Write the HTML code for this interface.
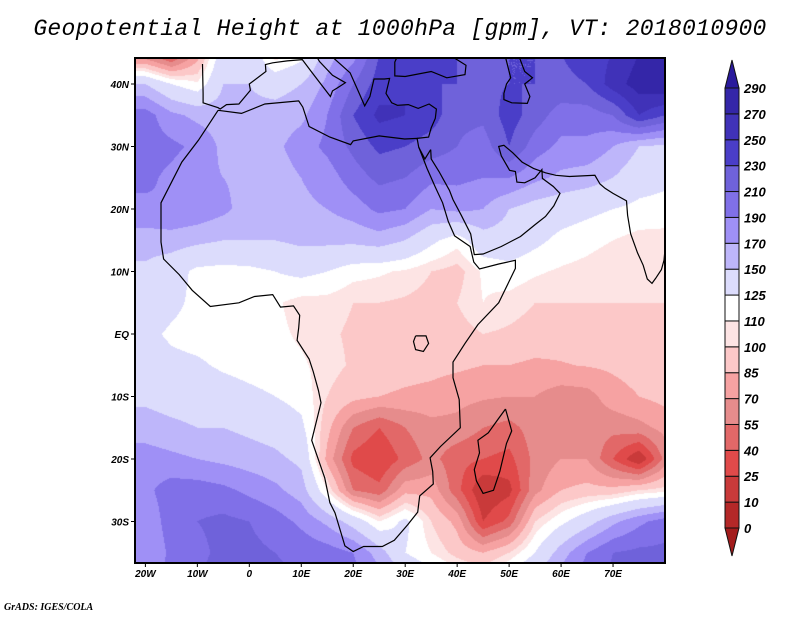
<!DOCTYPE html>
<html><head><meta charset="utf-8">
<style>
html,body{margin:0;padding:0;background:#fff;}
#root{position:relative;width:800px;height:618px;overflow:hidden;background:#fff;font-family:"Liberation Sans",sans-serif;}
.t{position:absolute;font-style:italic;font-weight:bold;color:#000;white-space:nowrap;}
#title{position:absolute;left:0;width:800px;top:16px;text-align:center;font-family:"Liberation Mono",monospace;font-style:italic;font-size:23px;color:#000;letter-spacing:0.3px;}
canvas{position:absolute;left:135px;top:58px;}
svg{position:absolute;left:0;top:0;}
</style></head><body>
<div id="root">
<div id="title">Geopotential Height at 1000hPa [gpm], VT: 2018010900</div>
<canvas id="cv" width="530" height="505"></canvas>
<svg id="sv" width="800" height="618"></svg>
<div class="t" style="left:4px;top:602px;font-size:10px;font-family:'Liberation Serif',serif;">GrADS: IGES/COLA</div>
</div>
<script>
// grid data: lons -20..80 step 5, lats 45..-40 step 5
const lons=[-20,-15,-10,-5,0,5,10,15,20,25,30,35,40,45,50,55,60,65,70,75,80];
const lats=[45,40,35,30,25,20,15,10,5,0,-5,-10,-15,-20,-25,-30,-35,-40];
const row45=[50,25,75,140,140,100,115,160,180,230,240,240,230,225,230,230,230,240,250,270,280];
const row40=[150,125,112,150,150,140,150,175,210,240,250,230,230,225,230,230,225,230,260,280,290];
const row35=[200,175,165,160,155,160,165,190,230,255,250,240,215,215,240,220,200,200,210,250,230];
const row30=[200,195,185,165,160,165,180,195,215,235,230,220,210,200,230,200,185,185,170,150,145];
const row25=[195,185,175,170,165,160,170,180,200,215,210,195,195,190,190,175,165,160,150,135,130];
const row20=[185,190,185,175,160,155,165,170,180,195,190,170,175,170,150,140,135,130,125,120,118];
const row15=[160,160,155,150,150,150,155,155,155,160,150,130,115,140,140,130,120,115,110,105,105];
const row10=[145,135,120,118,120,125,130,125,115,112,108,100,95,112,118,112,108,105,100,102,105];
const row5=[140,130,120,115,115,112,105,105,100,100,98,95,100,110,105,100,100,100,100,100,100];
const row0=[130,122,118,115,115,113,108,102,98,98,95,92,95,100,98,95,92,92,95,98,100];
const rowS5=[135,130,128,122,118,115,112,105,98,95,92,90,88,85,85,82,84,86,88,92,95];
const rowS10=[145,140,138,135,130,125,118,100,90,85,82,80,75,72,70,70,62,64,78,85,90];
const rowS15=[160,155,150,150,145,140,130,90,55,40,55,65,65,55,50,62,60,62,60,65,75];
const rowS20=[180,175,170,165,160,155,145,80,35,25,45,60,45,40,35,60,70,70,40,10,60];
const rowS25=[185,200,200,195,185,175,160,110,55,45,80,80,45,10,20,65,85,90,90,100,105];
const rowS30=[175,200,210,215,210,200,185,165,140,110,130,100,80,25,45,100,120,140,165,185,200];
const rowS35=[170,195,205,215,215,210,205,200,190,160,125,110,95,85,100,125,160,190,210,215,215];
const rowS40=[175,200,210,220,220,215,210,205,200,185,160,140,125,120,140,160,185,205,215,220,220];
const grid=[row45,row40,row35,row30,row25,row20,row15,row10,row5,row0,rowS5,rowS10,rowS15,rowS20,rowS25,rowS30,rowS35,rowS40];
const levels=[0,10,25,40,55,70,85,100,110,125,150,170,190,210,230,250,270,290];
const levelLabels=["0","10","25","40","55","70","85","100","110","125","150","170","190","210","230","250","270","290"];
const colors=["#a31c1c","#b42828","#c93a3a","#e04a4a","#e26868","#e68c8c","#f6a2a2","#fcc8c8","#fde4e4","#ffffff","#dcdcfc","#beb6fa","#9f90f6","#8070e8","#6f62da","#4a3ec8","#4032b8","#3426a8","#2a1a9c"];
const xTicks=[-20,-10,0,10,20,30,40,50,60,70];
const xTickLabels=["20W","10W","0","10E","20E","30E","40E","50E","60E","70E"];
const yTicks=[40,30,20,10,0,-10,-20,-30];
const yTickLabels=["40N","30N","20N","10N","EQ","10S","20S","30S"];

// axis functions
const X0=135,X1=665,Y0=58,Y1=563;
const lonMin=-22,lonMax=80;
function xOf(lon){return X0+(lon-lonMin)*(X1-X0)/(lonMax-lonMin);}
function yOf(lat){return 334-lat*6.25;}
function latOfY(y){return (334-y)/6.25;}
function lonOfX(x){return lonMin+(x-X0)*(lonMax-lonMin)/(X1-X0);}
function valAt(lon,lat){
  let fi=(lon-lons[0])/5, fj=(lats[0]-lat)/5;
  fi=Math.max(0,Math.min(lons.length-1.001,fi));fj=Math.max(0,Math.min(lats.length-1.001,fj));
  const i=Math.floor(fi),j=Math.floor(fj),a=fi-i,b=fj-j;
  return grid[j][i]*(1-a)*(1-b)+grid[j][i+1]*a*(1-b)+grid[j+1][i]*(1-a)*b+grid[j+1][i+1]*a*b;
}
function hex(c){return [parseInt(c.substr(1,2),16),parseInt(c.substr(3,2),16),parseInt(c.substr(5,2),16)];}
const rgb=colors.map(hex);
(function(){
  const cv=document.getElementById('cv'),ctx=cv.getContext('2d');
  const W=cv.width,H=cv.height,img=ctx.createImageData(W,H);
  for(let y=0;y<H;y++){const lat=latOfY(Y0+y+0.5);
    for(let x=0;x<W;x++){const v=valAt(lonOfX(X0+x+0.5),lat);
      let k=0;while(k<levels.length&&v>=levels[k])k++;const c=rgb[k],p=(y*W+x)*4;
      img.data[p]=c[0];img.data[p+1]=c[1];img.data[p+2]=c[2];img.data[p+3]=255;}}
  ctx.putImageData(img,0,0);
})();

const NS="http://www.w3.org/2000/svg";
const sv=document.getElementById('sv');
function mk(tag,attrs){const e=document.createElementNS(NS,tag);for(const k in attrs)e.setAttribute(k,attrs[k]);sv.appendChild(e);return e;}
// coastlines
const africa=[[-6,35.8],[-9.8,31],[-13,27.5],[-17,21],[-17,14.7],[-16.5,12],[-13.5,9.5],[-11,7],[-7.5,4.4],[-2,5],[1,6],[4.5,6.3],[6,4.3],[8.5,4.5],[9.7,3],[9.5,1],[9.2,-1],[11.5,-4],[12.3,-6],[13.3,-9],[13.8,-11],[12,-17],[14.5,-23],[15.5,-27],[16.5,-28.6],[18.4,-33.9],[20,-34.8],[22,-34],[25.6,-34],[27.9,-33],[30.5,-30.5],[32.4,-28.5],[32.8,-25.9],[35.4,-24],[35.3,-22],[34.8,-19.8],[36.8,-18],[40.6,-15],[40.4,-10.5],[39.2,-7],[39.2,-4.5],[41.5,-1.5],[44,1.5],[48,5],[51.2,10.5],[51.2,11.8],[48,11.2],[44.3,10.4],[43.2,11.5],[42.5,14],[39.5,15.7],[38.3,18],[37.2,21],[35.8,23.5],[34.2,26.5],[33.5,28],[32.6,29.9],[32.3,31.3],[29.9,31.2],[25,31.7],[20,30.9],[19.5,30.3],[15.5,31.5],[11.5,33.2],[10.3,36.3],[9.5,37.3],[3,36.8],[-1.5,35.3],[-6,35.8]];
const madagascar=[[49.3,-12],[50.5,-15.5],[49.5,-17.5],[48.2,-22],[47,-25],[45,-25.5],[43.7,-23.5],[43.3,-21.7],[44.3,-19],[44,-17],[46,-15.8],[47.9,-13.6],[49.3,-12]];
const asia=[[32.3,31.3],[34.5,31.5],[35,33],[35.8,34.5],[36,36],[34.6,36.8],[32.5,36.1],[30.6,36.7],[28.5,36.6],[27.4,37],[26.3,38.5],[27,40.9],[26,40.8],[24,40.8],[23.2,38],[22.2,36.5],[21,38.8],[19.4,41.8],[16,44.3],[13.6,45.3]];
const arabia=[[34.9,29.5],[35,28],[36.5,26],[38.5,23],[39.2,21.5],[40.8,19],[42.6,16],[43.3,12.7],[45,12.8],[48.5,14],[52.2,15.6],[55,17.5],[57,18.8],[58.6,20.5],[59.8,22.5],[58.5,23.6],[56.4,24.9],[56.3,26.3],[55,25],[53,24.2],[51.5,24.3],[51.2,26],[50.1,26.2],[48.5,28.5],[48,30],[49,30.2],[50.7,29],[52.5,27.5],[54.7,26.5],[57,25.8],[59,25.4],[61.6,25.2],[66.5,25.4],[67.5,24],[68.5,23.3],[70,22.5],[72.6,21.3],[72.8,19],[73.4,16],[74.7,13],[75.8,11],[76.6,8.8],[77.5,8.1],[78.2,8.9],[79.3,10.3],[79.8,11.8],[80,13.5]];
const sinai=[[32.6,29.9],[33.8,28],[34.9,29.5]];
const europe=[[-9,43.2],[-8.9,38.5],[-8.9,37],[-6,36.2],[-5.6,36],[-4.4,36.7],[-2,36.8],[-0.3,38.5],[0.2,39],[0,40],[3.2,42],[3.1,43.1],[4.5,43.4],[7.3,43.7],[10.2,43.9],[12,41.9],[15.6,38],[16,38.9],[17,39.4],[18.5,40.2],[16,41.4],[13.5,43.6],[12.3,45.3]];
const blacksea=[[28.7,44.8],[28,43.5],[28,41.3],[30,41.2],[35,42],[38,41],[41.5,41.5],[41.7,43],[39,44.4],[37.5,45.3]];
const caspian=[[49,45.3],[50.3,41],[49.5,40],[49,38.5],[49,37.5],[50.5,37],[53.5,36.9],[54,38],[53,40],[54.5,41],[53,42],[51.5,45.3]];
const lakeVic=[[32,-0.3],[34,-0.3],[34.5,-1.5],[33.5,-2.8],[32,-2.5],[31.6,-1.2],[32,-0.3]];
const coasts=[africa,madagascar,asia,arabia,sinai,europe,blacksea,caspian,lakeVic];
const cp=mk('clipPath',{id:'mapclip'});
const cr=document.createElementNS(NS,'rect');cr.setAttribute('x',X0);cr.setAttribute('y',Y0);cr.setAttribute('width',X1-X0);cr.setAttribute('height',Y1-Y0);cp.appendChild(cr);
coasts.forEach(c=>{
  const p=mk('polyline',{points:c.map(q=>xOf(q[0]).toFixed(1)+','+yOf(q[1]).toFixed(1)).join(' '),fill:'none',stroke:'#000','stroke-width':1.2,'clip-path':'url(#mapclip)'});
  
  
});
// frame
const fr=mk('rect',{x:X0,y:Y0,width:X1-X0,height:Y1-Y0,fill:'none',stroke:'#000','stroke-width':2});


// x ticks
xTicks.forEach((t,i)=>{const x=xOf(t);
  mk('line',{x1:x,x2:x,y1:Y1,y2:Y1+4,stroke:'#000','stroke-width':1});
  const tx=mk('text',{x:x,y:Y1+14,'text-anchor':'middle','font-size':10,'font-style':'italic','font-weight':'bold','font-family':'Liberation Sans, sans-serif'});
  tx.textContent=xTickLabels[i];
  
  });
yTicks.forEach((t,i)=>{const y=yOf(t);
  mk('line',{x1:X0-4,x2:X0,y1:y,y2:y,stroke:'#000','stroke-width':1});
  const tx=mk('text',{x:X0-6,y:y+4,'text-anchor':'end','font-size':10,'font-style':'italic','font-weight':'bold','font-family':'Liberation Sans, sans-serif'});
  tx.textContent=yTickLabels[i];
  
  });
// colorbar
const CBX=725,CBW=14,CBT=88,CBB=528;
const nb=levels.length-1,bh=(CBB-CBT)/nb;
for(let k=0;k<nb;k++){
  const y=CBB-(k+1)*bh;
  const r=mk('rect',{x:CBX,y:y,width:CBW,height:bh,fill:colors[k+1],stroke:'#111','stroke-width':1});
  
  
}
const tu=mk('polygon',{points:`${CBX},${CBT} ${CBX+CBW},${CBT} ${CBX+CBW/2},${CBT-28}`,fill:colors[colors.length-1],stroke:'#111','stroke-width':1});


const td=mk('polygon',{points:`${CBX},${CBB} ${CBX+CBW},${CBB} ${CBX+CBW/2},${CBB+28}`,fill:colors[0],stroke:'#111','stroke-width':1});


levels.forEach((l,k)=>{const y=CBB-k*bh;
  const tx=mk('text',{x:CBX+CBW+5,y:y+5,'font-size':13,'font-style':'italic','font-weight':'bold','font-family':'Liberation Sans, sans-serif'});
  tx.textContent=levelLabels[k];
  
  });
</script>
</body></html>
